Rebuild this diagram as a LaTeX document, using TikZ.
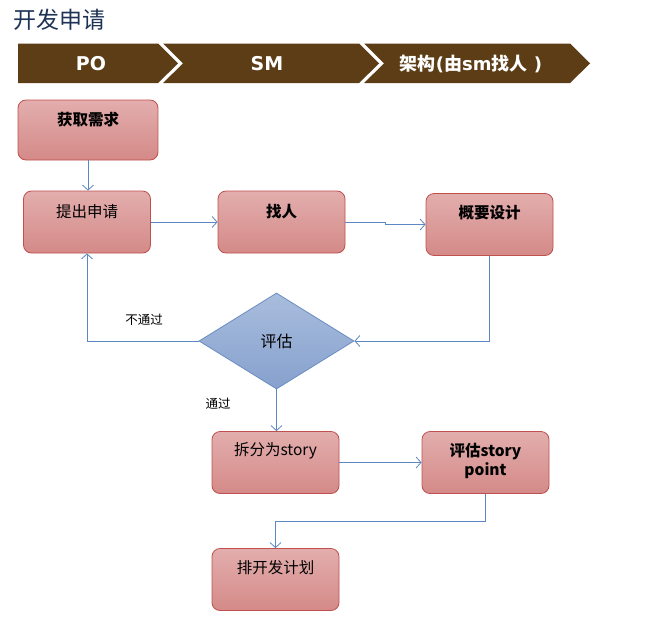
\documentclass[tikz,border=0pt]{standalone}
\usepackage{fontspec}
\setmainfont{Noto Sans CJK SC}
\newfontfamily\dvsans{DejaVu Sans}
\usetikzlibrary{shapes.geometric,arrows.meta}
\definecolor{barbrown}{HTML}{5C3D15}
\definecolor{titleblue}{HTML}{1F3356}
\definecolor{boxtop}{HTML}{E2AEAD}
\definecolor{boxbot}{HTML}{D48A88}
\definecolor{boxline}{HTML}{C0504D}
\definecolor{dtop}{HTML}{A9BDDD}
\definecolor{dbot}{HTML}{86A1CE}
\definecolor{dline}{HTML}{6A8DC2}
\definecolor{conncol}{HTML}{5B87C2}
\begin{document}
\begin{tikzpicture}[x=1pt,y=-1pt,
  box/.style={draw=boxline, line width=0.8pt, rounded corners=8pt,
    top color=boxtop, bottom color=boxbot, minimum width=127pt,
    minimum height=62pt, inner sep=0pt},
  txt/.style={font=\fontsize{15.5}{18}\selectfont, text=black, align=center, inner sep=0pt},
  btxt/.style={txt, font=\fontsize{15.5}{19.5}\selectfont\bfseries},
  conn/.style={draw=conncol, line width=0.8pt, -{Straight Barb[length=5pt,width=11pt]}},
  lbl/.style={font=\fontsize{12.5}{14}\selectfont, text=black, inner sep=0pt},
  bartxt/.style={font=\fontsize{18}{20}\selectfont\bfseries, text=white, inner sep=0pt}]
\useasboundingbox (0,0) rectangle (666,621);
\fill[white] (0,0) rectangle (666,621);

% title
\node[anchor=west, text=titleblue, font=\fontsize{23}{26}\selectfont, inner sep=0pt] (title) at (13,20) {开发申请};

% chevron bar
\fill[barbrown] (18,43.5) -- (158,43.5) -- (178,63.5) -- (158,83) -- (18,83) -- cycle;
\fill[barbrown] (163,43.5) -- (359,43.5) -- (379,63.5) -- (359,83) -- (163,83) -- (183,63.5) -- cycle;
\fill[barbrown] (364,43.5) -- (570,43.5) -- (590,63.5) -- (570,83) -- (364,83) -- (384,63.5) -- cycle;
\node[bartxt, font=\fontsize{19}{20}\selectfont\bfseries\dvsans] (po) at (91,64) {PO};
\node[bartxt, font=\fontsize{19}{20}\selectfont\bfseries\dvsans] (sm) at (267,64) {SM};
\node[bartxt] (arch) at (471,64) {架构{\dvsans(}由{\dvsans sm}找人{\dvsans\ )}};

% boxes
\node[box, minimum width=140pt, minimum height=60pt,
  label={[btxt, anchor=center, yshift=-20pt]north:获取需求}] (get) at (88,130) {};
\node[box, label={[txt, anchor=center, yshift=-21pt]north:提出申请}] (req) at (87,222) {};
\node[box, label={[btxt, anchor=center, yshift=-21pt]north:找人}] (find) at (281.5,222) {};
\node[box, label={[btxt, anchor=center, yshift=-20pt]north:概要设计}] (design) at (489.5,224.5) {};
\node[diamond, draw=dline, line width=0.8pt, top color=dtop, bottom color=dbot,
  minimum width=155pt, minimum height=96pt, inner sep=0pt,
  font=\fontsize{16}{18}\selectfont] (eval) at (276.5,341) {评估};
\node[box, label={[txt, anchor=center, yshift=-20pt]north:拆分为story}] (split) at (275.5,462.5) {};
\node[box, label={[btxt, anchor=center, yshift=-30pt]north:评估story\\point}] (point) at (485.5,462.5) {};
\node[box, label={[txt, anchor=center, yshift=-20pt]north:排开发计划}] (plan) at (275.5,579.5) {};

% connectors
\draw[conn] (get.south) -- (get.south |- req.north);
\draw[conn] (req.east) -- (find.west);
\draw[conn] (find.east) -- ++(40,0) |- (design.west);
\draw[conn] (design.south) |- (eval.east);
\draw[conn] (eval.west) -| (req.south);
\draw[conn] (eval.south) -- (eval.south |- split.north);
\draw[conn] (split.east) -- (point.west);
\draw[conn] (point.south) -- ++(0,27) -| (plan.north);

% labels
\node[lbl] (fail) at (144,320) {不通过};
\node[lbl] (pass) at (218,404) {通过};
\end{tikzpicture}
\end{document}
